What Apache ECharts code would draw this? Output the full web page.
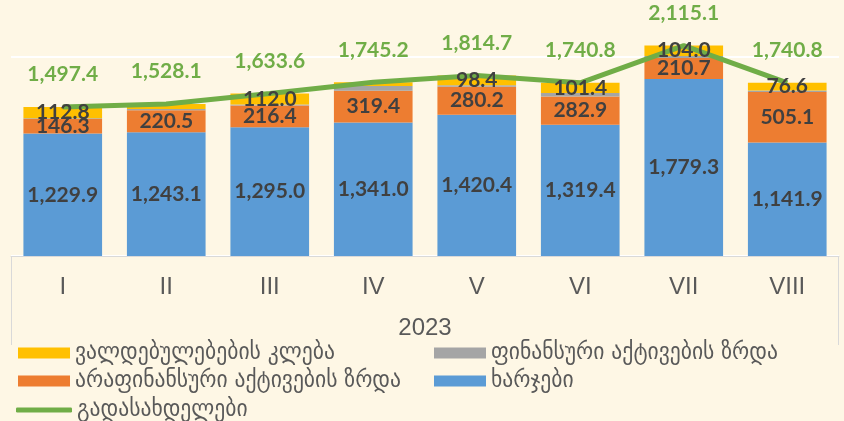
<!DOCTYPE html>
<html>
<head>
<meta charset="utf-8">
<script src="https://cdn.jsdelivr.net/npm/echarts@6/dist/echarts.min.js"></script>
<style>
  html, body { margin: 0; padding: 0; background: #fef7e5; }
  #chart { width: 844px; height: 421px; }
</style>
</head>
<body>
<div id="chart"></div>
<script>
// თვეები
var months = ['I', 'II', 'III', 'IV', 'V', 'VI', 'VII', 'VIII']
var yearLabel = '2023'

// სერიები (მლნ ლარი)
var expenses = [1229.9, 1243.1, 1295.0, 1341.0, 1420.4, 1319.4, 1779.3, 1141.9]
var nonFinAssets = [146.3, 220.5, 216.4, 319.4, 280.2, 282.9, 210.7, 505.1]
var finAssets = [8.4, 15.0, 10.2, 47.0, 15.7, 37.1, 21.1, 17.2]
var liabilities = [112.8, 49.5, 112.0, 37.8, 98.4, 101.4, 104.0, 76.6]
var payments = [1497.4, 1528.1, 1633.6, 1745.2, 1814.7, 1740.8, 2115.1, 1740.8]

// ვალდებულებების ის მნიშვნელობები, რომლებსაც წარწერა არ აქვს
var liabilitiesNoLabel = [1, 3]

var names = {
  liab: 'ვალდებულებების კლება',
  fin: 'ფინანსური აქტივების ზრდა',
  nonfin: 'არაფინანსური აქტივების ზრდა',
  exp: 'ხარჯები',
  pay: 'გადასახდელები'
}

var fmt = function(v) {
  return v.toLocaleString('en-US', { minimumFractionDigits: 1, maximumFractionDigits: 1 })
}

var barLabel = {
  show: true,
  position: 'inside',
  color: '#404040',
  fontFamily: 'Lato',
  fontWeight: 'bold',
  fontSize: 21,
  formatter: function(p) { return fmt(p.value) }
}

var legendText = { color: '#595959', fontSize: 24, fontFamily: "'DejaVu Sans Condensed', 'DejaVu Sans', sans-serif" }

function legendAt(name, left, top, extra) {
  return Object.assign({
    data: [name],
    left: left,
    top: top,
    padding: 0,
    itemWidth: 52,
    itemHeight: 11,
    itemGap: 0,
    icon: 'rect',
    selectedMode: false,
    textStyle: legendText
  }, extra || {})
}

// ფერადი სვეტები
function barSeries(name, data, color) {
  return {
    name: name,
    type: 'bar',
    stack: 'total',
    barWidth: '76%',
    barGap: '-100%',
    clip: false,
    data: data,
    itemStyle: { color: color },
    label: { show: false }
  }
}

// გამჭვირვალე სვეტები მხოლოდ წარწერებისთვის (ხაზის ზემოთ რომ ჩანდეს)
function labelSeries(name, data, label) {
  return {
    name: name + ' ',
    type: 'bar',
    stack: 'labels',
    barWidth: '76%',
    barGap: '-100%',
    clip: false,
    z: 4,
    silent: true,
    data: data,
    itemStyle: { color: 'rgba(0,0,0,0)' },
    label: label || barLabel
  }
}

var chart = echarts.init(document.getElementById('chart'))
chart.setOption({
  backgroundColor: '#fef7e5',
  animation: false,
  grid: { left: 11, right: 5, top: 57, bottom: 165 },
  legend: [
    legendAt(names.liab, 18, 341),
    legendAt(names.fin, 434, 341),
    legendAt(names.nonfin, 18, 369),
    legendAt(names.exp, 434, 369),
    legendAt(names.pay, 16, 398, { icon: 'roundRect', itemWidth: 56, itemHeight: 5 })
  ],
  xAxis: {
    type: 'category',
    data: months,
    axisLine: { show: true, lineStyle: { color: '#d9d9d9', width: 1 } },
    axisTick: { show: false },
    axisLabel: {
      margin: 19,
      color: '#595959',
      fontSize: 24,
      fontFamily: "'Liberation Sans Narrow', 'Arial Narrow', sans-serif"
    },
    name: yearLabel,
    nameLocation: 'middle',
    nameGap: 60,
    nameTextStyle: {
      color: '#595959',
      fontSize: 24,
      fontFamily: "'Liberation Sans Narrow', 'Arial Narrow', sans-serif"
    }
  },
  yAxis: {
    type: 'value',
    min: 0,
    max: 2000,
    interval: 2000,
    axisLabel: { show: false },
    axisLine: { show: false },
    axisTick: { show: false },
    splitLine: { show: true, lineStyle: { color: '#ffffff', width: 2 } }
  },
  graphic: [
    { type: 'line', shape: { x1: 11.5, y1: 256, x2: 11.5, y2: 345 }, style: { stroke: '#d9d9d9', lineWidth: 1 } },
    { type: 'line', shape: { x1: 838.5, y1: 256, x2: 838.5, y2: 345 }, style: { stroke: '#d9d9d9', lineWidth: 1 } }
  ],
  series: [
    barSeries(names.exp, expenses, '#5b9bd5'),
    barSeries(names.nonfin, nonFinAssets, '#ed7d31'),
    barSeries(names.fin, finAssets, '#a5a5a5'),
    barSeries(names.liab, liabilities, '#ffc000'),
    {
      name: names.pay,
      type: 'line',
      clip: false,
      data: payments,
      symbol: 'circle',
      symbolSize: 0,
      showSymbol: true,
      lineStyle: { color: '#70ad47', width: 5 },
      itemStyle: { color: '#70ad47' },
      label: {
        show: true,
        position: 'top',
        distance: 22,
        color: '#70ad47',
        fontFamily: 'Lato',
        fontWeight: 'bold',
        fontSize: 21,
        formatter: function(p) { return fmt(p.value) }
      }
    },
    labelSeries(names.exp, expenses),
    labelSeries(names.nonfin, nonFinAssets),
    labelSeries(names.fin, finAssets, { show: false }),
    labelSeries(names.liab, liabilities, Object.assign({}, barLabel, {
      formatter: function(p) {
        return liabilitiesNoLabel.indexOf(p.dataIndex) >= 0 ? '' : fmt(p.value)
      }
    }))
  ]
})
</script>
</body>
</html>
